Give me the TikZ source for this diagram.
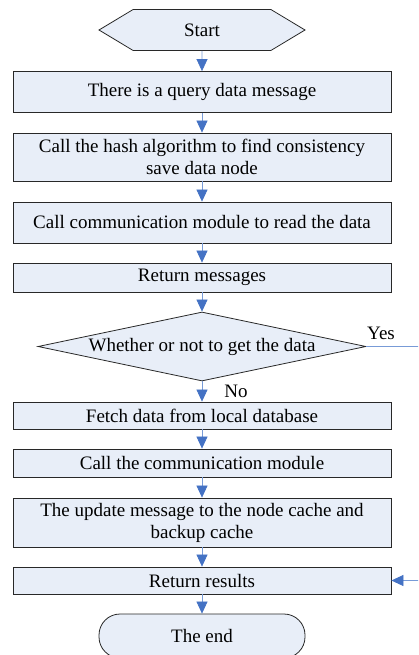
\documentclass[tikz,border=0pt]{standalone}
\usepackage{fontspec}
\setmainfont{Liberation Serif}
\usepackage{xcolor}
\definecolor{boxfill}{RGB}{232,238,248}
\definecolor{boxline}{RGB}{40,40,40}
\definecolor{arrowblue}{RGB}{68,114,196}
\definecolor{arrowline}{RGB}{120,155,215}
\usetikzlibrary{shapes.geometric, shapes.symbols, arrows.meta}

\begin{document}
\begin{tikzpicture}[
    x=1pt, y=-1pt,
    font=\fontsize{19}{22}\selectfont,
    >={Triangle[width=11pt, length=12pt, color=arrowblue]},
    procbox/.style={draw=boxline, rectangle, fill=boxfill, minimum width=378pt, inner sep=0pt, align=center, line width=0.8pt},
    startbox/.style={draw=boxline, signal, signal to=east and west, signal pointer angle=62, fill=boxfill, minimum width=206pt, minimum height=41pt, inner sep=0pt, line width=0.8pt},
    endbox/.style={draw=boxline, rectangle, rounded corners=21pt, fill=boxfill, minimum width=206pt, minimum height=44pt, inner sep=0pt, line width=0.8pt},
    decbox/.style={draw=boxline, diamond, aspect=4.75, fill=boxfill, minimum width=328pt, minimum height=69pt, inner sep=0pt, line width=0.8pt},
    flow/.style={->, draw=arrowline, line width=0.7pt}
  ]
  \clip (0,0) rectangle (418,655);

  % Top part: query and lookup
  \node (start) at (202, 30) [startbox] {Start};
  \node (query) at (202, 92) [procbox, minimum height=41pt] {There is a query data message};
  \node (hash) at (202, 157) [procbox, minimum height=48pt] {Call the hash algorithm to find consistency\\save data node};
  \node (read) at (202, 222.5) [procbox, minimum height=41pt] {Call communication module to read the data};
  \node (msgs) at (202, 277.5) [procbox, minimum height=29pt] {Return messages};

  % Decision
  \node (check) at (202, 346.5) [decbox] {Whether or not to get the data};
  \node (yes) at (381, 333) {Yes};
  \node (no) at (236, 391) {No};

  % Bottom part: local fetch and update
  \node (fetch) at (202, 415.5) [procbox, minimum height=27pt] {Fetch data from local database};
  \node (comm) at (202, 463) [procbox, minimum height=28pt] {Call the communication module};
  \node (update) at (202, 522.5) [procbox, minimum height=49pt] {The update message to the node cache and\\backup cache};
  \node (result) at (202, 580.5) [procbox, minimum height=27pt] {Return results};
  \node (finish) at (202, 636) [endbox] {The end};

  \coordinate (yesout) at (425, 346.5);
  \coordinate (yesin) at (425, 580.5);

  % Edges
  \draw[flow] (start) -- (query);
  \draw[flow] (query) -- (hash);
  \draw[flow] (hash) -- (read);
  \draw[flow] (read) -- (msgs);
  \draw[flow] (msgs) -- (check);
  \draw[flow] (check) -- (fetch);
  \draw[flow] (fetch) -- (comm);
  \draw[flow] (comm) -- (update);
  \draw[flow] (update) -- (result);
  \draw[flow] (result) -- (finish);
  \draw[flow] (check.east) -- (yesout) -- (yesin) -- (result.east);

\end{tikzpicture}
\end{document}
